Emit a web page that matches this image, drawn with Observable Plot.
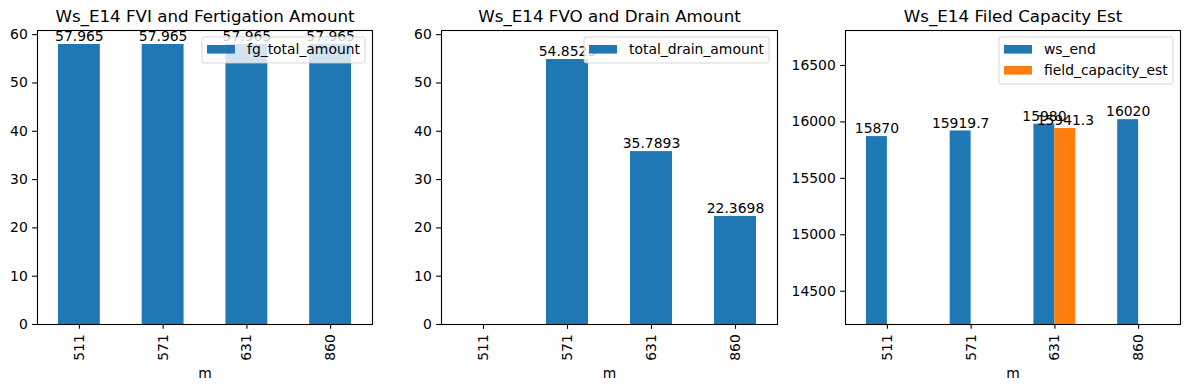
<!DOCTYPE html>
<html><head><meta charset="utf-8">
<script src="https://cdn.jsdelivr.net/npm/d3@7"></script>
<script src="https://cdn.jsdelivr.net/npm/@observablehq/plot@0.6"></script>
<style>
body{margin:0;background:#fff;}
#wrap{position:relative;width:1189px;height:390px;overflow:hidden;background:#fff;}
.panel{position:absolute;top:0;}
.panel svg{overflow:visible;}
</style></head><body><div id="wrap"></div>
<script>
// ---- data ----
const categories = ["511", "571", "631", "860"];
const fgTotalAmount = [57.965, 57.965, 57.965, 57.965];
const totalDrainAmount = [null, 54.8525, 35.7893, 22.3698];
const wsEnd = [15870, 15919.7, 15980, 16020];
const fieldCapacityEst = [null, null, 15941.3, null];
const titles = ["Ws_E14 FVI and Fertigation Amount", "Ws_E14 FVO and Drain Amount", "Ws_E14 Filed Capacity Est"];
const ticksLeft = [0, 10, 20, 30, 40, 50, 60];
const ticksRight = [14500, 15000, 15500, 16000, 16500];
const xLabel = "m";

// ---- style ----
const FONT = "DejaVu Sans";
const FS = 13.9;
const TICK = 4.86;
const BLUE = "#1f77b4", ORANGE = "#ff7f0e";
const fmt = d3.format("~g");

const t1 = categories.map((m, i) => ({m, v: fgTotalAmount[i]}));
const t2 = categories.map((m, i) => ({m, v: totalDrainAmount[i]}));
const t3 = categories.map((m, i) => ({m, a: wsEnd[i], b: fieldCapacityEst[i]}));

function makePanel({width, marginLeft, marginRight, yDomain, yTicks, title, marks}) {
  return Plot.plot({
    width, height: 390, marginLeft, marginRight, marginTop: 30, marginBottom: 66,
    style: {fontFamily: FONT, fontSize: FS + "px", color: "black", background: "transparent", overflow: "visible"},
    x: {type: "band", domain: categories, paddingInner: 0.5, paddingOuter: 0.25, round: false},
    y: {domain: yDomain},
    marks: [
      ...marks,
      Plot.frame({stroke: "black", strokeWidth: 1.1}),
      Plot.axisY({ticks: yTicks, tickSize: TICK, tickPadding: TICK, tickFormat: d => String(d), label: null, strokeWidth: 1.1}),
      Plot.axisX({tickSize: TICK, tickPadding: TICK, tickRotate: -90, label: xLabel, labelAnchor: "center", labelArrow: "none", labelOffset: 53, strokeWidth: 1.1}),
      Plot.text([title], {text: d => d, frameAnchor: "top", dy: -8.3, lineAnchor: "bottom", fontSize: 16.7})
    ]
  });
}

function addLegend(svg, {x, y, w, h, items}) {
  const g = d3.select(svg).append("g").attr("text-anchor", "start");
  g.append("rect").attr("x", x).attr("y", y).attr("width", w).attr("height", h)
    .attr("rx", 2.5).attr("fill", "white").attr("fill-opacity", 0.8)
    .attr("stroke", "#cccccc").attr("stroke-opacity", 0.8).attr("stroke-width", 1);
  items.forEach((it, i) => {
    g.append("rect").attr("x", x + 5).attr("y", y + 8 + i * 21).attr("width", 28).attr("height", 8.6).attr("fill", it.color);
    g.append("text").attr("x", x + 45).attr("y", y + 17 + i * 21).attr("fill", "black")
      .attr("text-anchor", "start")
      .attr("font-family", FONT).attr("font-size", FS).text(it.label);
  });
}

const wrap = document.getElementById("wrap");
function place(svg, left) {
  const d = document.createElement("div");
  d.className = "panel"; d.style.left = left + "px";
  d.appendChild(svg); wrap.appendChild(d);
}

// Panel 1
const yMax = 60.86;
const p1 = makePanel({
  width: 390, marginLeft: 37, marginRight: 18, yDomain: [0, yMax], yTicks: ticksLeft, title: titles[0],
  marks: [
    Plot.barY(t1, {x: "m", y: "v", fill: BLUE}),
    Plot.text(t1, {x: "m", y: "v", text: d => fmt(d.v), lineAnchor: "bottom", dy: -3.3, fill: "black"})
  ]
});
addLegend(p1, {x: 202, y: 37, w: 163, h: 26, items: [{color: BLUE, label: "fg_total_amount"}]});
place(p1, 0);

// Panel 2
const p2 = makePanel({
  width: 400, marginLeft: 51, marginRight: 13, yDomain: [0, yMax], yTicks: ticksLeft, title: titles[1],
  marks: [
    Plot.barY(t2, {x: "m", y: "v", fill: BLUE}),
    Plot.text(t2, {x: "m", y: "v", text: d => d.v == null ? "" : fmt(d.v), lineAnchor: "bottom", dy: -3.3, fill: "black"})
  ]
});
addLegend(p2, {x: 194, y: 37, w: 185, h: 26, items: [{color: BLUE, label: "total_drain_amount"}]});
place(p2, 390);

// Panel 3
const w3 = 399, ml3 = 55, mr3 = 9;
const step3 = (w3 - ml3 - mr3) / categories.length;
const half3 = step3 * 0.5 / 2;
const p3 = makePanel({
  width: w3, marginLeft: ml3, marginRight: mr3, yDomain: [14205, 16810], yTicks: ticksRight, title: titles[2],
  marks: [
    Plot.barY(t3, {x: "m", y: "a", fill: BLUE, insetRight: half3, clip: true}),
    Plot.barY(t3.filter(d => d.b != null), {x: "m", y: "b", fill: ORANGE, insetLeft: half3, clip: true}),
    Plot.text(t3, {x: "m", y: "a", text: d => fmt(d.a), lineAnchor: "bottom", dy: -3.3, dx: -half3 / 2, fill: "black"}),
    Plot.text(t3.filter(d => d.b != null), {x: "m", y: "b", text: d => fmt(d.b), lineAnchor: "bottom", dy: -3.3, dx: half3 / 2, fill: "black"})
  ]
});
addLegend(p3, {x: 209, y: 37, w: 174, h: 47, items: [{color: BLUE, label: "ws_end"}, {color: ORANGE, label: "field_capacity_est"}]});
place(p3, 790);
</script></body></html>
